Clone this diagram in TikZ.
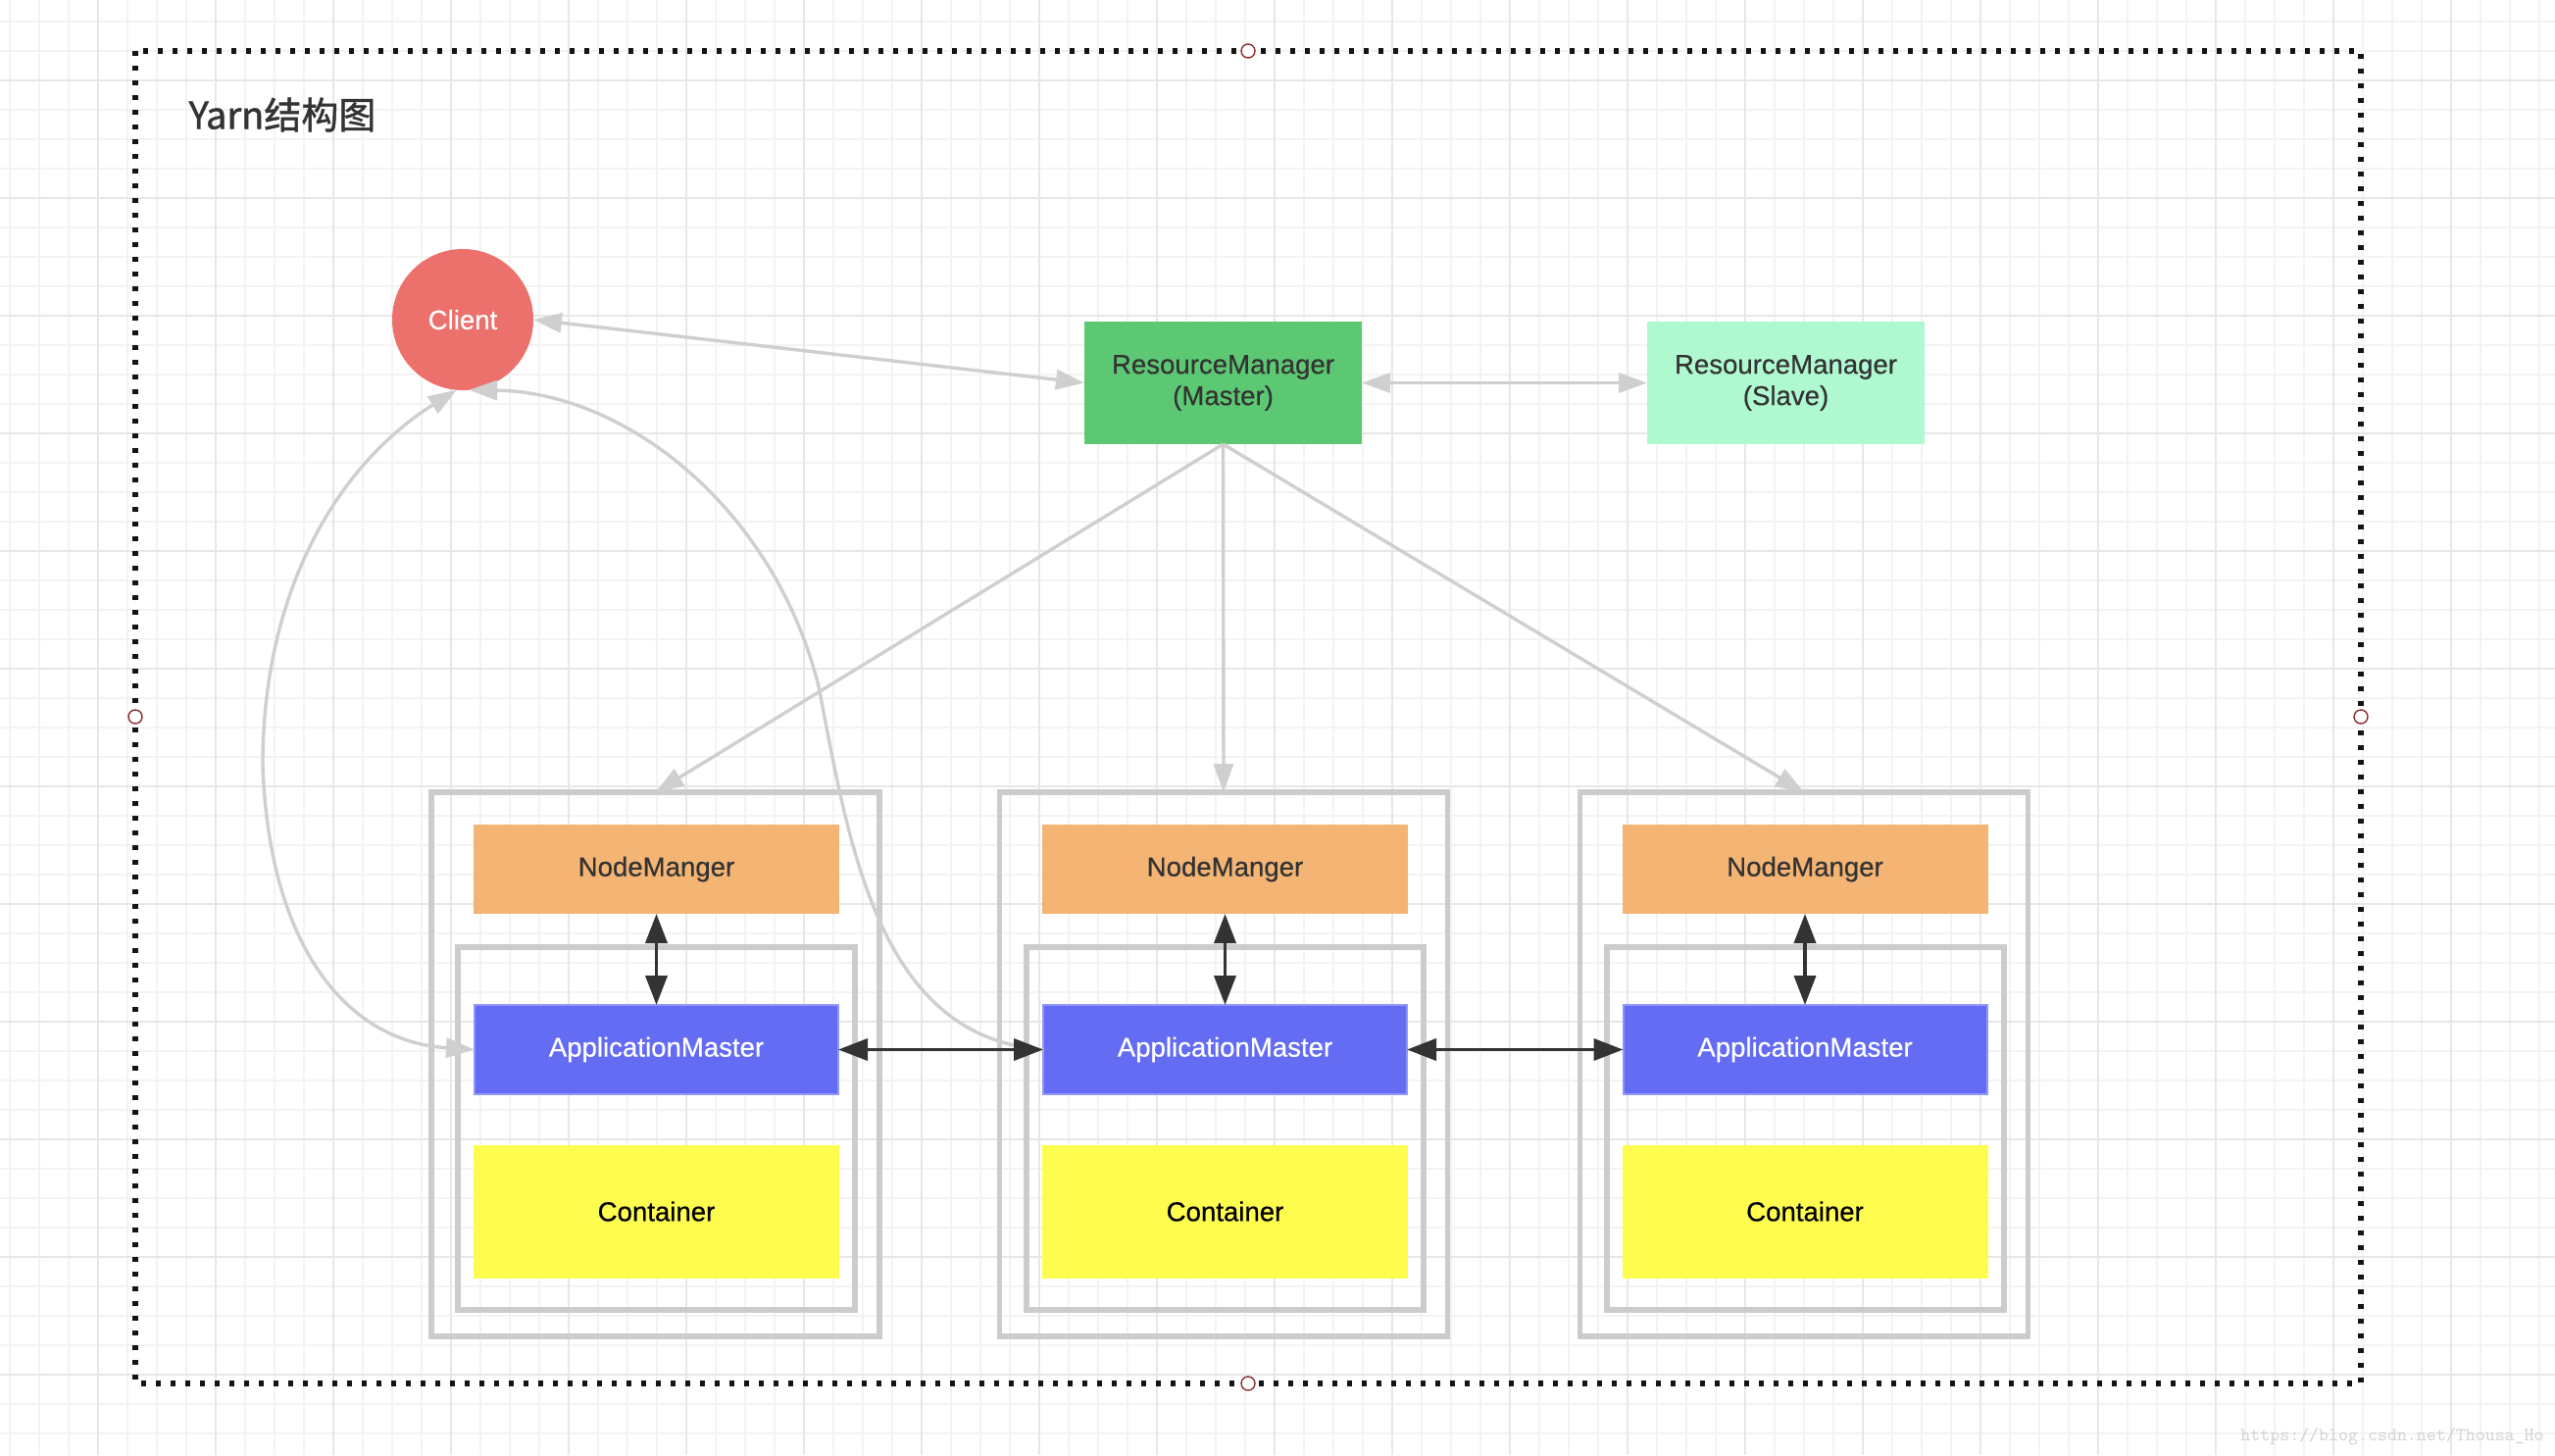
\documentclass[tikz,border=0pt]{standalone}
\usepackage{fontspec}
\setmainfont{Liberation Sans}[FakeBold=0.45]
\newfontfamily\cjk{Noto Sans CJK SC}[FakeBold=1.2]
\usetikzlibrary{arrows.meta}
\definecolor{gridminor}{HTML}{F3F3F3}
\definecolor{gridmajor}{HTML}{E7E7E7}
\definecolor{clientcol}{HTML}{EC706B}
\definecolor{mastercol}{HTML}{5DC873}
\definecolor{slavecol}{HTML}{AFF9D0}
\definecolor{nmcol}{HTML}{F3B474}
\definecolor{amcol}{HTML}{656CF4}
\definecolor{amborder}{HTML}{9097FB}
\definecolor{contcol}{HTML}{FFFC50}
\definecolor{txtdark}{HTML}{333333}
\definecolor{boxgray}{HTML}{CCCCCC}
\definecolor{arrowgray}{HTML}{CFCFCF}
\definecolor{handlecol}{HTML}{8E2B2B}
\definecolor{wmcol}{HTML}{D2D2D2}
\begin{document}
\begin{tikzpicture}[x=0.5pt,y=-0.5pt,
  lbl/.style={font=\fontsize{13.8pt}{16pt}\selectfont},
  plain/.style={rectangle, inner sep=0pt, outer sep=0pt},
  nmbox/.style={plain, lbl, fill=nmcol, text=txtdark, minimum width=186.5pt, minimum height=45.5pt},
  ambox/.style={plain, lbl, fill=amcol, draw=amborder, line width=1pt, text=white, minimum width=185.5pt, minimum height=45.5pt},
  contbox/.style={plain, lbl, fill=contcol, text=black, minimum width=186.5pt, minimum height=68pt},
  rmbox/.style={plain, lbl, align=center, text=txtdark, minimum width=141.5pt, minimum height=62.5pt},
  outerbox/.style={plain, draw=boxgray, line width=2.8pt, minimum width=228.5pt, minimum height=277.5pt},
  innerbox/.style={plain, draw=boxgray, line width=2.8pt, minimum width=202.5pt, minimum height=185pt},
  handle/.style={circle, draw=handlecol, fill=white, line width=0.7pt, minimum size=7pt, inner sep=0pt},
  grayarrow/.style={draw=arrowgray, line width=1.7pt, -{Triangle[length=14.5pt,width=10pt]}},
  graydouble/.style={draw=arrowgray, line width=1.7pt, {Triangle[length=14.5pt,width=10pt]}-{Triangle[length=14.5pt,width=10pt]}},
  blackdouble/.style={draw=txtdark, line width=1.9pt, {Triangle[length=15pt,width=11pt]}-{Triangle[length=15pt,width=11pt]}}
]
\useasboundingbox (0,0) rectangle (2606,1484);
\fill[white] (0,0) rectangle (2606,1484);
% grid
\foreach \i in {0,...,86} \draw[gridminor, line width=0.8pt] ({10+30*\i},0) -- ({10+30*\i},1484);
\foreach \i in {0,...,48} \draw[gridminor, line width=0.8pt] (0,{22+30*\i}) -- (2606,{22+30*\i});
\foreach \i in {0,...,20} \draw[gridmajor, line width=1.1pt] ({100+120*\i},0) -- ({100+120*\i},1484);
\foreach \i in {0,...,11} \draw[gridmajor, line width=1.1pt] (0,{82+120*\i}) -- (2606,{82+120*\i});
% dotted frame
\draw[black!92, line width=2.6pt, dash pattern=on 2.6pt off 4.9pt] (138,52) rectangle (2408,1411);
\node[handle] (ht) at (1273,52) {};
\node[handle] (hb) at (1273,1411) {};
\node[handle] (hl) at (138,731) {};
\node[handle] (hr) at (2408,731) {};
% title
\node[text=txtdark, font=\cjk\fontsize{19pt}{22pt}\selectfont] (title) at (288,117) {Yarn结构图};
% cluster boxes
\node[outerbox] (ob1) at (668.5,1085.5) {};
\node[outerbox] (ob2) at (1248,1085.5) {};
\node[outerbox] (ob3) at (1840,1085.5) {};
\node[innerbox] (ib1) at (669.5,1151) {};
\node[innerbox] (ib2) at (1249.5,1151) {};
\node[innerbox] (ib3) at (1841.5,1151) {};
% main nodes
\node[circle, fill=clientcol, text=white, lbl, minimum size=72pt, inner sep=0pt, outer sep=0pt] (client) at (472,326) {Client};
\node[rmbox, fill=mastercol] (rm) at (1247.5,390.5) {ResourceManager\\(Master)};
\node[rmbox, fill=slavecol] (rs) at (1821.5,390.5) {ResourceManager\\(Slave)};
\node[nmbox] (nm1) at (669.5,886.5) {NodeManger};
\node[nmbox] (nm2) at (1249.5,886.5) {NodeManger};
\node[nmbox] (nm3) at (1841,886.5) {NodeManger};
\node[ambox] (am1) at (669.5,1070.5) {ApplicationMaster};
\node[ambox] (am2) at (1249.5,1070.5) {ApplicationMaster};
\node[ambox] (am3) at (1841,1070.5) {ApplicationMaster};
\node[contbox] (c1) at (669.5,1235.5) {Container};
\node[contbox] (c2) at (1249.5,1235.5) {Container};
\node[contbox] (c3) at (1841,1235.5) {Container};
% gray connectors
\draw[graydouble] (client.east) -- (rm.west);
\draw[graydouble] (rm.east) -- (rs.west);
\draw[grayarrow] (rm.south) -- (ob1.north);
\draw[grayarrow] (rm.south) -- (ob2.north);
\draw[grayarrow] (rm.south) -- (ob3.north);
\draw[graydouble] (client.265) .. controls (346,473) and (268,600) .. (268,780)
   .. controls (274,960) and (350,1062) .. (am1.west);
\draw[draw=arrowgray, line width=1.7pt, {Triangle[length=14.5pt,width=10pt]}-] (client.275) .. controls (640,400) and (790,520) .. (835,700)
   .. controls (866,860) and (895,1058) .. (am2.west);
% black connectors
\draw[blackdouble] (nm1.south) -- (am1.north);
\draw[blackdouble] (nm2.south) -- (am2.north);
\draw[blackdouble] (nm3.south) -- (am3.north);
\draw[blackdouble] (am1.east) -- (am2.west);
\draw[blackdouble] (am2.east) -- (am3.west);
% watermark
\node[text=wmcol, font=\ttfamily\fontsize{9.5pt}{11pt}\selectfont] (wm) at (2440,1465) {https://blog.csdn.net/Thousa\_Ho};
\end{tikzpicture}
\end{document}
